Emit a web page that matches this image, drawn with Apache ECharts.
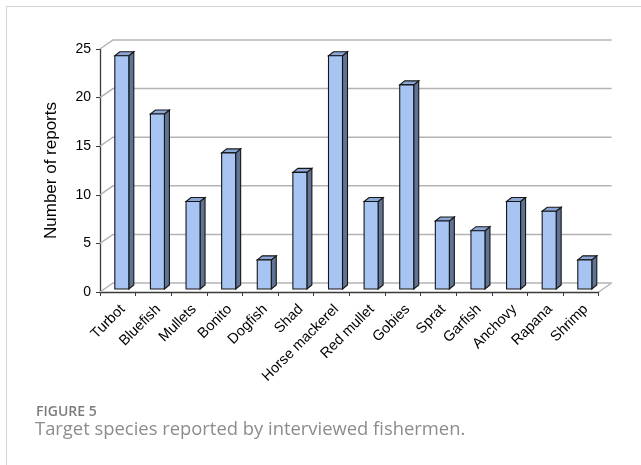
<!DOCTYPE html>
<html>
<head>
<meta charset="utf-8">
<script src="https://cdn.jsdelivr.net/npm/echarts@6/dist/echarts.min.js"></script>
<style>
html,body{margin:0;padding:0;background:#fff;}
#frame{position:absolute;left:6px;top:6px;width:700px;height:500px;border-left:1px solid #d4d4d4;border-top:1px solid #d4d4d4;}
#chart{position:absolute;left:0;top:0;width:641px;height:465px;}
</style>
</head>
<body>
<div id="frame"></div>
<div id="chart"></div>
<script>
const categories = ['Turbot','Bluefish','Mullets','Bonito','Dogfish','Shad','Horse mackerel','Red mullet','Gobies','Sprat','Garfish','Anchovy','Rapana','Shrimp'];
const reports = [24,18,9,14,3,12,24,9,21,7,6,9,8,3];
const yTicks = [0,5,10,15,20,25];

const chart = echarts.init(document.getElementById('chart'), null, {renderer:'canvas'});

// 3D styling constants
const WALL_DX = 13, WALL_DY = -9;
const FRONT_OFF = -3, FRONT_W = 14, BASE_DY = -3, DEPTH_DX = 5, DEPTH_DY = -4;

function renderWalls(params, api){
  const cs = params.coordSys;
  const v = api.value(0);
  const y = api.coord([0, v])[1];
  const left = cs.x, right = cs.x + cs.width;
  const children = [
    {type:'polyline', shape:{points:[[left,y],[left+WALL_DX,y+WALL_DY],[right+WALL_DX,y+WALL_DY]]},
     style:{stroke:'#b4b4b4', lineWidth:1.5, fill:null}}
  ];
  if (v === 0) {
    children.push({type:'line', shape:{x1:right,y1:y,x2:right+WALL_DX,y2:y+WALL_DY},
      style:{stroke:'#b4b4b4', lineWidth:1.5}});
  }
  return {type:'group', children};
}

function renderBar(params, api){
  const i = api.value(0), v = api.value(1);
  const base = api.coord([i, 0]);
  const top = api.coord([i, v]);
  const c = base[0];
  const x0 = c + FRONT_OFF, x1 = x0 + FRONT_W;
  const yb = base[1] + BASE_DY, yt = top[1] + BASE_DY;
  const stroke = '#161616', lw = 1.1;
  return {type:'group', children:[
    {type:'polygon', shape:{points:[[x1,yt],[x1+DEPTH_DX,yt+DEPTH_DY],[x1+DEPTH_DX,yb+DEPTH_DY],[x1,yb]]},
      style:{fill:'#5f7395', stroke, lineWidth:lw}},
    {type:'polygon', shape:{points:[[x0,yt],[x0+DEPTH_DX,yt+DEPTH_DY],[x1+DEPTH_DX,yt+DEPTH_DY],[x1,yt]]},
      style:{fill:'#8ba7d6', stroke, lineWidth:lw}},
    {type:'rect', shape:{x:x0,y:yt,width:FRONT_W,height:yb-yt},
      style:{fill:'#a7c4f3', stroke, lineWidth:lw}}
  ]};
}

chart.setOption({
  animation:false,
  backgroundColor:'transparent',
  title:[
    {text:'FIGURE 5', left:31, top:400, padding:5, textStyle:{fontFamily:'Open Sans', fontWeight:600, fontSize:14, color:'#7d7d7d'}},
    {text:'Target species reported by interviewed fishermen.', left:30, top:416, padding:5, textStyle:{fontFamily:'Open Sans', fontWeight:400, fontSize:18.4, color:'#8c8c8c'}}
  ],
  grid:{left:100, right:42.4, top:49, bottom:173},
  xAxis:{
    type:'category', data:categories, boundaryGap:true,
    axisLine:{lineStyle:{color:'#3a3a3a', width:1.3}},
    axisTick:{show:true, length:4, lineStyle:{color:'#3a3a3a'}},
    axisLabel:{interval:0, rotate:45, margin:20, fontFamily:'Liberation Sans', fontSize:14.5, color:'#000',
      padding:[0,-7,0,0]}
  },
  yAxis:{
    type:'value', min:0, max:25, interval:5,
    name:'Number of reports', nameLocation:'middle', nameGap:40, nameRotate:90,
    nameTextStyle:{fontFamily:'Liberation Sans', fontSize:17, color:'#000'},
    axisLine:{show:true, lineStyle:{color:'#3a3a3a', width:1.3}},
    axisTick:{show:true, length:4, lineStyle:{color:'#3a3a3a'}},
    axisLabel:{margin:9, fontFamily:'Liberation Sans', fontSize:14, color:'#000'},
    splitLine:{show:false}
  },
  series:[
    {type:'custom', renderItem:renderWalls, data:yTicks.map(v=>[v]), encode:{y:0}, z:1, silent:true, clip:false},
    {type:'custom', renderItem:renderBar, data:reports.map((v,i)=>[i,v]), encode:{x:0,y:1}, z:3, clip:false}
  ]
});
</script>
</body>
</html>
